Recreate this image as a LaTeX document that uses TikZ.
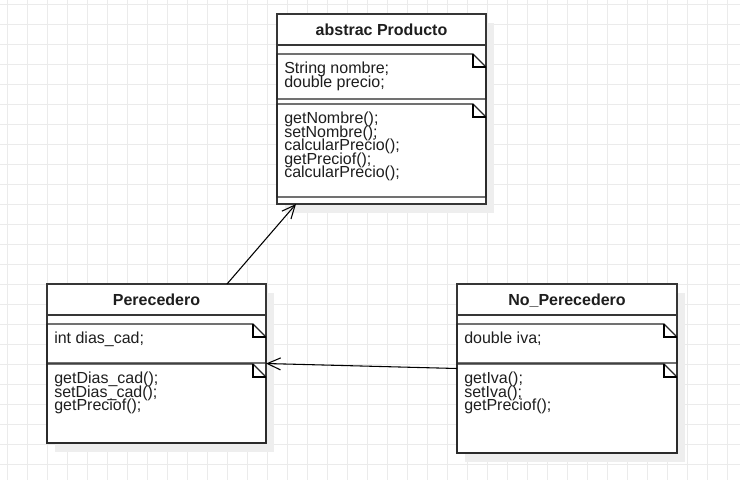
\documentclass[tikz,border=0pt]{standalone}
\usepackage{fontspec}
\setmainfont{Liberation Sans}
\usetikzlibrary{arrows.meta}
\usetikzlibrary{shadows}
\setlength{\lineskiplimit}{-20pt}
\newcommand{\pxu}{0.75pt}
\definecolor{borde}{HTML}{363636}
\definecolor{rejilla}{HTML}{EBEBEB}
\definecolor{sombra}{HTML}{EEEEEE}
\definecolor{texto}{HTML}{1E1E1E}
\tikzset{clase/.style = {draw=borde, line width=1.5pt, fill=white, rectangle,
                         inner sep=0pt, outer sep=0pt, anchor=north west,
                         drop shadow={shadow xshift=6pt, shadow yshift=-6.5pt,
                                      fill=sombra, opacity=1}}}
\tikzset{separador/.style = {draw=borde, line width=1pt}}
\tikzset{notaborde/.style = {draw=black!85, line width=1pt}}
\tikzset{pliegue/.style = {draw=black, line width=0.8pt}}
\tikzset{titulo/.style = {anchor=base, inner sep=0pt, text=texto,
                          font=\bfseries\fontsize{12}{14}\selectfont}}
\tikzset{miembro/.style = {anchor=north west, align=left, inner sep=0pt, text=texto,
                           font=\fontsize{12}{10.2}\selectfont}}
\tikzset{herencia/.style = {draw=black, line width=0.8pt,
                            -{Straight Barb[length=10pt,width=9pt]}}}
\tikzset{rejilla/.style = {draw=rejilla, line width=0.75pt}}
% nota con esquina doblada: x1, y1, x2, y2
\newcommand{\nota}[4]{%
  \draw[notaborde] (#1,#2) -- ({#3-13},#2) -- (#3,{#2+13}) -- (#3,#4) -- (#1,#4) -- cycle;
  \draw[pliegue] ({#3-13},#2) -- ({#3-13},{#2+13}) -- (#3,{#2+13});}

\begin{document}
\begin{tikzpicture}[x=0.75pt, y=-0.75pt]
\useasboundingbox (0,0) rectangle (740,480);
\fill[white] (0,0) rectangle (740,480);
\foreach \gx in {7,27,...,727} \draw[rejilla] (\gx,0) -- (\gx,480);
\foreach \gy in {4,24,...,464} \draw[rejilla] (0,\gy) -- (740,\gy);

% clases
\node[clase, minimum width=209*\pxu, minimum height=190*\pxu] (producto) at (277,14) {};
\node[clase, minimum width=219*\pxu, minimum height=159*\pxu] (perecedero) at (47,284) {};
\node[clase, minimum width=220*\pxu, minimum height=169*\pxu] (noperecedero) at (457,284) {};

\draw[separador] (277,45) -- (486,45);
\draw[separador] (47,315) -- (266,315);
\draw[separador] (457,315) -- (677,315);

\nota{277}{54}{486}{99}
\nota{277}{104}{486}{197}
\nota{47}{324}{266}{363}
\nota{47}{364}{266}{443}
\nota{457}{324}{677}{363}
\nota{457}{364}{677}{453}

% textos
\node[titulo] (tproducto) at (381.5,35) {abstrac Producto};
\node[miembro] (aproducto) at (284,61.7) {String nombre;\\double precio;};
\node[miembro] (mproducto) at (284,111.7) {getNombre();\\setNombre();\\calcularPrecio();\\getPreciof();\\calcularPrecio();};
\node[titulo] (tperecedero) at (156.5,305) {Perecedero};
\node[miembro] (aperecedero) at (54,331.4) {int dias\_cad;};
\node[miembro] (mperecedero) at (54,371.7) {getDias\_cad();\\setDias\_cad();\\getPreciof();};
\node[titulo] (tnoperecedero) at (567,305) {No\_Perecedero};
\node[miembro] (anoperecedero) at (464,331.4) {double iva;};
\node[miembro] (mnoperecedero) at (464,371.7) {getIva();\\setIva();\\getPreciof();};

% herencia
\draw[herencia] ([xshift=180*\pxu]perecedero.north west) -- ([xshift=19*\pxu]producto.south west);
\draw[herencia] (noperecedero.west) -- (perecedero.east);
\end{tikzpicture}
\end{document}
